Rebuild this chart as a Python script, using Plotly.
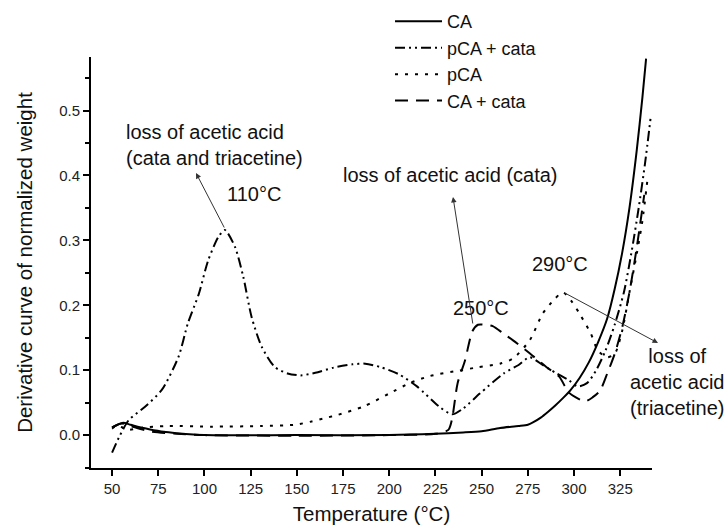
import plotly.graph_objects as go

# ---------------- data ----------------
ca_T = [50, 53, 56, 60, 65, 70, 78, 85, 100, 150, 200, 225, 240, 250, 260, 270, 275, 278,
        282, 286, 290, 294, 298, 303, 308, 313, 318, 322, 326, 330, 334, 337, 339]
ca_v = [0.012, 0.016, 0.019, 0.016, 0.012, 0.009, 0.005, 0.003, 0.0, 0.0, 0.0, 0.002, 0.004,
        0.006, 0.011, 0.014, 0.016, 0.02, 0.027, 0.036, 0.046, 0.057, 0.069, 0.088, 0.112,
        0.143, 0.18, 0.225, 0.28, 0.35, 0.44, 0.52, 0.58]

pcacata_T = [50, 54, 59, 68, 77, 86, 91, 97, 102, 107.5, 111, 116.5, 121, 125.5, 131, 138, 145,
             152, 160, 170, 180, 187, 195, 205, 215, 227, 234, 240, 249, 262, 270, 276, 283, 290,
             297, 302, 307, 312, 317, 322, 327, 331, 335, 338.5, 341.5]
pcacata_v = [-0.027, -0.002, 0.023, 0.044, 0.070, 0.121, 0.172, 0.218, 0.269, 0.305, 0.316, 0.29,
             0.244, 0.182, 0.136, 0.105, 0.095, 0.092, 0.096, 0.104, 0.109, 0.11, 0.105, 0.094,
             0.075, 0.044, 0.032, 0.041, 0.064, 0.095, 0.108, 0.12, 0.108, 0.096, 0.085, 0.075,
             0.08, 0.10, 0.13, 0.17, 0.22, 0.28, 0.35, 0.42, 0.49]

pca_T = [50, 53, 56, 59, 65, 80, 104, 131, 149, 158, 165, 172, 186, 200, 211, 222, 237, 247,
         260, 267, 276, 283, 289, 294, 299, 303, 309, 313, 318, 322, 326, 330, 334, 337, 340]
pca_v = [0.010, 0.015, 0.011, 0.008, 0.011, 0.014, 0.013, 0.014, 0.016, 0.021, 0.026, 0.031,
         0.044, 0.064, 0.08, 0.091, 0.099, 0.104, 0.11, 0.118, 0.146, 0.187, 0.208, 0.22, 0.205,
         0.187, 0.157, 0.13, 0.12, 0.125, 0.16, 0.22, 0.28, 0.33, 0.40]

cacata_T = [50, 55, 60, 70, 85, 100, 150, 200, 225, 232, 234, 237, 241, 245, 248, 252, 256, 262,
            267, 276, 285, 292, 297, 301, 306, 310, 314, 318, 322, 326, 330, 334, 338]
cacata_v = [0.012, 0.018, 0.014, 0.006, 0.002, 0.0, -0.001, 0.0, 0.002, 0.008, 0.025, 0.08,
            0.115, 0.16, 0.17, 0.17, 0.168, 0.156, 0.146, 0.126, 0.105, 0.09, 0.066, 0.058, 0.052,
            0.058, 0.068, 0.095, 0.125, 0.165, 0.22, 0.29, 0.37]

x_ticks = [50, 75, 100, 125, 150, 175, 200, 225, 250, 275, 300, 325]
y_ticks = [0.0, 0.1, 0.2, 0.3, 0.4, 0.5]

FONT = "Arial, Liberation Sans, sans-serif"
INK = "#111111"

fig = go.Figure()

series = [
    ("CA", ca_T, ca_v, "solid"),
    ("pCA + cata", pcacata_T, pcacata_v, "10px,4px,2px,4px,2px,4px"),
    ("pCA", pca_T, pca_v, "3px,7px"),
    ("CA + cata", cacata_T, cacata_v, "13px,8px"),
]
for name, xs, ys, dash in series:
    fig.add_trace(go.Scatter(
        x=xs, y=ys, name=name, mode="lines",
        line=dict(color="black", width=2, dash=dash, shape="spline", smoothing=0.7),
    ))

fig.update_layout(
    width=727, height=528,
    margin=dict(l=91, r=75, t=57, b=60, autoexpand=False),
    paper_bgcolor="white", plot_bgcolor="white",
    font=dict(family=FONT, color=INK, size=20),
    showlegend=True,
    legend=dict(
        x=0.533, y=1.131, xanchor="left", yanchor="top",
        bgcolor="rgba(0,0,0,0)", borderwidth=0,
        font=dict(family=FONT, size=18, color=INK),
        itemwidth=47, tracegroupgap=0,
    ),
)

fig.update_xaxes(
    range=[38.6, 342.2], tickvals=x_ticks, ticktext=[str(t) for t in x_ticks],
    showline=True, linecolor="black", linewidth=2, mirror=False,
    ticks="outside", ticklen=6, tickwidth=2, tickcolor="black",
    showgrid=False, zeroline=False,
    tickfont=dict(family=FONT, size=15, color="#222"),
    title=dict(text="Temperature (°C)", font=dict(family=FONT, size=20.5, color=INK), standoff=11),
    automargin=False,
)
fig.update_yaxes(
    range=[-0.0507, 0.5825], tickvals=y_ticks, ticktext=["0.0", "0.1", "0.2", "0.3", "0.4", "0.5"],
    showline=True, linecolor="black", linewidth=2, mirror=False,
    ticks="outside", ticklen=6, tickwidth=2, tickcolor="black",
    minor=dict(dtick=0.05, tick0=0.05, ticks="outside", ticklen=4, tickwidth=2, tickcolor="black",
               showgrid=False),
    showgrid=False, zeroline=False,
    tickfont=dict(family=FONT, size=15, color="#222"),
    title=dict(text="Derivative curve of normalized weight",
               font=dict(family=FONT, size=20.5, color=INK), standoff=21),
    automargin=False,
)

ANN_FONT = dict(family=FONT, size=20, color=INK)
ARROW = dict(showarrow=True, arrowhead=2, arrowsize=1.1, arrowwidth=1, arrowcolor="#333")

# text labels
fig.add_annotation(xref="paper", yref="paper", x=0.0588, y=0.787, xanchor="left", yanchor="middle",
                   align="left", text="loss of acetic acid<br>(cata and triacetine)",
                   showarrow=False, font=ANN_FONT)
fig.add_annotation(xref="paper", yref="paper", x=0.2906, y=0.6667, xanchor="center", yanchor="middle",
                   text="110°C", showarrow=False, font=ANN_FONT)
fig.add_annotation(xref="paper", yref="paper", x=0.4456, y=0.7129, xanchor="left", yanchor="middle",
                   text="loss of acetic acid (cata)", showarrow=False, font=ANN_FONT)
fig.add_annotation(xref="paper", yref="paper", x=0.6943, y=0.3893, xanchor="center", yanchor="middle",
                   text="250°C", showarrow=False, font=ANN_FONT)
fig.add_annotation(xref="paper", yref="paper", x=0.836, y=0.4964, xanchor="center", yanchor="middle",
                   text="290°C", showarrow=False, font=ANN_FONT)
fig.add_annotation(xref="paper", yref="paper", x=1.046, y=0.209, xanchor="center", yanchor="middle",
                   align="center", text="loss of<br>acetic acid<br>(triacetine)",
                   showarrow=False, font=ANN_FONT)

# arrows (head at x,y ; tail offset in pixels)
fig.add_annotation(xref="paper", yref="paper", x=(196 - 91) / 561, y=(468 - 173) / 411,
                   ax=29, ay=56, text="", **ARROW)
fig.add_annotation(xref="paper", yref="paper", x=(453 - 91) / 561, y=(468 - 197) / 411,
                   ax=20, ay=128, text="", **ARROW)
fig.add_annotation(xref="paper", yref="paper", x=(658 - 91) / 561, y=(468 - 343) / 411,
                   ax=-95, ay=-51, text="", **ARROW)

fig.write_html("out.html")
